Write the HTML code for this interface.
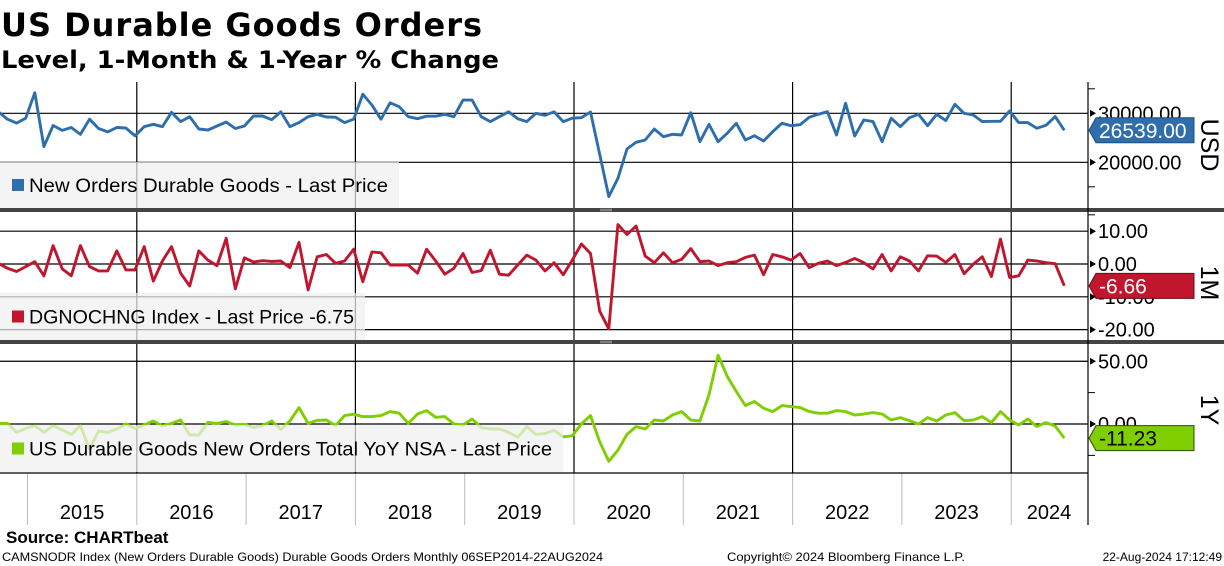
<!DOCTYPE html>
<html><head><meta charset="utf-8"><style>
html,body{margin:0;padding:0;background:#fff;}
svg{display:block;font-family:"Liberation Sans",sans-serif;}
</style></head><body>
<svg id="chart" width="1224" height="566" viewBox="0 0 1224 566" xmlns="http://www.w3.org/2000/svg">
<defs>
<clipPath id="c1"><rect x="0" y="82" width="1088" height="126"/></clipPath>
<clipPath id="c2"><rect x="0" y="212" width="1088" height="128"/></clipPath>
<clipPath id="c3"><rect x="0" y="344" width="1088" height="129"/></clipPath>
</defs>
<text x="1" y="36" font-family="DejaVu Sans, sans-serif" font-weight="bold" font-size="32" textLength="481" fill="#000">US Durable Goods Orders</text>
<text x="1" y="68" font-family="DejaVu Sans, sans-serif" font-weight="bold" font-size="24" textLength="498" lengthAdjust="spacingAndGlyphs" fill="#000">Level, 1-Month &amp; 1-Year % Change</text>
<g id="grid"></g>
<g id="series"></g>
<g id="legends"></g>
<g id="axis"></g>
<text x="6" y="543" font-weight="bold" font-size="17" fill="#000">Source: CHARTbeat</text>
<text x="2" y="561" font-size="12" textLength="601" lengthAdjust="spacingAndGlyphs" fill="#000">CAMSNODR Index (New Orders Durable Goods) Durable Goods Orders  Monthly 06SEP2014-22AUG2024</text>
<text x="727" y="561" font-size="12" textLength="238" lengthAdjust="spacingAndGlyphs" fill="#000">Copyright© 2024 Bloomberg Finance L.P.</text>
<text x="1222" y="561" font-size="12" text-anchor="end" fill="#000">22-Aug-2024 17:12:49</text>
</svg>
<script>
const levelValues=[30300,28800,28000,29000,34200,23200,27500,26500,27100,25700,28800,26900,26200,27100,27000,25400,27270,27750,27270,30200,28300,29300,26800,26600,27400,28200,26900,27400,29450,29450,28700,30300,27270,28100,29300,29800,29250,29200,28100,28800,33900,31700,28800,32150,31350,29300,28900,29400,29400,29800,29300,32700,32700,29300,28300,29300,30300,28900,28300,30000,29600,30300,28300,29000,29100,30260,21640,12990,16740,22720,24080,24550,26800,25230,25710,25570,30120,24210,27750,24210,25920,27960,24550,25430,24350,26250,27960,27470,27670,29180,29800,30330,25570,32040,25370,28630,28300,24210,29000,27270,29100,29800,27470,29800,28500,31840,30000,29660,28300,28360,28360,30470,28100,28100,26940,27550,29320,26539];
const momValues=[0.2,-1.3,-2.3,-0.8,0.7,-3.6,5.6,-1.5,-3.6,5.6,-0.8,-2.1,-2.1,4.0,-1.8,-1.8,5.3,-5.2,0.9,5.3,-2.8,-6.7,4.0,1.2,-0.5,7.8,-7.6,1.9,0.6,1.0,0.8,0.9,-1.1,6.6,-7.9,2.2,2.9,0.2,0.9,4.5,-5.4,3.7,3.4,-0.3,-0.3,-0.3,-2.8,4.5,0.9,-3.1,-1.3,3.2,-2.6,-2.0,4.2,-3.1,-3.4,-0.3,2.7,1.2,-2.1,0.4,-3.3,1.2,6.1,3.2,-14.4,-19.8,12.0,9.0,11.6,2.4,0.4,3.4,0.4,1.4,4.7,0.7,0.9,-0.5,0.4,0.7,2.0,2.7,-3.3,2.9,2.2,1.2,3.2,-1.1,0.2,0.9,-0.5,0.5,1.7,0.4,-1.5,2.9,-2.1,2.2,0.9,-2.1,2.5,2.4,0.5,2.9,-3.0,-0.1,2.2,-3.8,7.6,-4.1,-3.6,1.2,0.9,0.4,0.1,-6.66];
const yoyValues=[0.5,0.5,-6.7,-3.5,-1.3,-6.7,-1.3,-4.8,-8.3,-1.3,-20,-5.6,-6.7,-4.0,0,-3.5,-0.8,2.4,-1.6,0.5,3.2,-8.8,-8.8,1.3,0.5,1.9,-0.8,-0.3,-2.7,-1.3,2.4,-4.3,2.4,13.1,0.5,2.9,3.2,-1.3,6.7,7.8,5.9,5.9,6.7,9.9,8.6,0.5,8.0,10.7,5.3,5.9,0,-0.8,4.0,-2.9,-4.0,-4.0,-6.7,-10.7,-2.1,-8.3,-7.5,-5.2,-10.2,-9.4,0,6.7,-14.2,-29.7,-20.9,-8.3,-2.1,-4.0,3.2,2.4,7.2,9.9,3.2,2.4,23.3,54.8,38,25.9,14.7,17.9,12.6,9.9,14.7,13.9,13.1,9.9,8.6,8.6,10.7,9.9,7.2,8.0,9.1,8.0,3.2,5.1,2.7,0,5.1,2.4,7.2,9.1,2.7,3.2,5.9,1.1,9.9,3.2,-0.8,4.0,-2.1,1.1,-1.6,-11.23];
const yearLabels=["2015","2016","2017","2018","2019","2020","2021","2022","2023","2024"];
const levelTicks=[30000,20000];
const momTicks=[10,0,-10,-20];
const yoyTicks=[50,0];

const NS="http://www.w3.org/2000/svg";
function mk(tag,attrs,parent,text){const e=document.createElementNS(NS,tag);for(const k in attrs)e.setAttribute(k,attrs[k]);if(text!==undefined)e.textContent=text;parent.appendChild(e);return e;}
const X0=-1.6, STEP=9.11, YEAR0=27.5, YW=109.3, PR=1088;
function xAt(i){return X0+i*STEP;}
function xYear(k){return YEAR0+k*YW;}
function y1(v){return 113.3+(30000-v)*0.0049;}
function y2(v){return 264-v*3.28;}
function y3(v){return 424-v*1.255;}

const grid=document.getElementById('grid');
const series=document.getElementById('series');
const legends=document.getElementById('legends');
const axis=document.getElementById('axis');

[[levelTicks,y1],[momTicks,y2],[yoyTicks,y3]].forEach(function(p){
  p[0].forEach(function(t){
    const l=mk('line',{x1:0,x2:PR,y1:p[1](t),y2:p[1](t),stroke:'#000','stroke-width':1.2},grid);
    
    
  });
});
for(let k=0;k<=yearLabels.length;k++){
  const x=xYear(k);
  if(k%2===1&&x<PR){
    [[82,208],[212,340],[344,473]].forEach(function(r){
      const l=mk('line',{x1:x,x2:x,y1:r[0],y2:r[1],stroke:'#000','stroke-width':1.2},grid);
      
      
    });
  }
  if(x<PR){
    const l=mk('line',{x1:x,x2:x,y1:473,y2:525,stroke:'#bbb','stroke-width':1},grid);
    
    
  }
}
const xb=mk('line',{x1:0,x2:PR,y1:473,y2:473,stroke:'#000','stroke-width':1.2},grid);


yearLabels.forEach(function(lab,k){
  const cx=(xYear(k)+xYear(k+1))/2;
  const t=mk('text',{x:k===9?1049:cx,y:519,'font-size':20,'text-anchor':'middle',fill:'#000'},axis,lab);
  
  
});

function line(vals,fy,color,clip,name){
  let d='';vals.forEach(function(v,i){d+=(i?'L':'M')+xAt(i).toFixed(1)+','+fy(v).toFixed(1);});
  const p=mk('path',{d:d,fill:'none',stroke:color,'stroke-width':2.9,'stroke-linejoin':'round','clip-path':'url(#'+clip+')'},series);
  
  
}
line(levelValues,y1,'#2e6ead','c1','level-line');
line(momValues,y2,'#c0162e','c2','mom-change-line');
line(yoyValues,y3,'#7fcf00','c3','yoy-change-line');

function legend(x,y,w,h,color,label,tw,name){
  const g=mk('g',{},legends);
  
  
  mk('rect',{x:x,y:y,width:w,height:h,fill:'rgba(240,240,240,0.72)'},g);
  mk('rect',{x:12,y:y+(h/2)-6,width:12,height:12,fill:color},g);
  mk('text',{x:29,y:y+h/2+7,'font-size':19,fill:'#000',textLength:tw,lengthAdjust:'spacingAndGlyphs'},g,label);
}
legend(0,162,399,46,'#2e6ead','New Orders Durable Goods - Last Price',359,'legend-level');
legend(0,293,365,47,'#c0162e','DGNOCHNG Index - Last Price -6.75',325,'legend-mom');
legend(0,425,563,47,'#7fcf00','US Durable Goods New Orders Total YoY NSA - Last Price',523,'legend-yoy');

[208,340].forEach(function(y){
  const r=mk('rect',{x:0,y:y,width:1224,height:4,fill:'#444'},axis);
  
  
  mk('line',{x1:600,x2:612,y1:y+1.2,y2:y+1.2,stroke:'#aaa','stroke-width':0.8},axis);
  mk('line',{x1:600,x2:612,y1:y+2.8,y2:y+2.8,stroke:'#aaa','stroke-width':0.8},axis);
});

const ax=mk('line',{x1:PR,x2:PR,y1:82,y2:525,stroke:'#000','stroke-width':1.2},axis);


function ticks(vals,fy,fmt,minor,prefix){
  vals.forEach(function(v){
    const y=fy(v);
    mk('path',{d:'M'+(PR+2)+','+(y-3.5)+'L'+(PR+8)+','+y+'L'+(PR+2)+','+(y+3.5)+'Z',fill:'#000'},axis);
    const t=mk('text',{x:1098,y:y+7,'font-size':20,fill:'#000'},axis,fmt(v));
    
    
  });
  minor.forEach(function(v){mk('line',{x1:PR,x2:PR+7,y1:fy(v),y2:fy(v),stroke:'#000','stroke-width':1},axis);});
}
ticks(levelTicks,y1,function(v){return v.toFixed(2);},[35000,15000],'level');
ticks(momTicks,y2,function(v){return v.toFixed(2);},[15],'mom');
ticks(yoyTicks,y3,function(v){return v.toFixed(2);},[25,-25],'yoy');

function valBox(v,fy,fill,tc,txt,stroke,name){
  const y=fy(v);
  const g=mk('g',{},axis);
  
  
  mk('path',{d:'M1089,'+y+'L1096,'+(y-12.5)+'L1194,'+(y-12.5)+'L1194,'+(y+12.5)+'L1096,'+(y+12.5)+'Z',fill:fill,stroke:stroke,'stroke-width':1},g);
  mk('text',{x:1099,y:y+7.5,'font-size':21,fill:tc},g,txt);
}
valBox(levelValues[levelValues.length-1],y1,'#2e6ead','#fff','26539.00','#1d4f80','last-value-level');
valBox(momValues[momValues.length-1],y2,'#c0162e','#fff','-6.66','#6a0a18','last-value-mom');
valBox(yoyValues[yoyValues.length-1],y3,'#7fcf00','#000','-11.23','#2a4a00','last-value-yoy');

function unit(txt,cy,name){
  const t=mk('text',{x:0,y:0,'font-size':25,'text-anchor':'middle',fill:'#000',transform:'translate(1201,'+cy+') rotate(90)'},axis,txt);
  
  
}
unit('USD',145,'unit-usd');
unit('1M',283,'unit-1m');
unit('1Y',410,'unit-1y');
</script>
</body></html>
